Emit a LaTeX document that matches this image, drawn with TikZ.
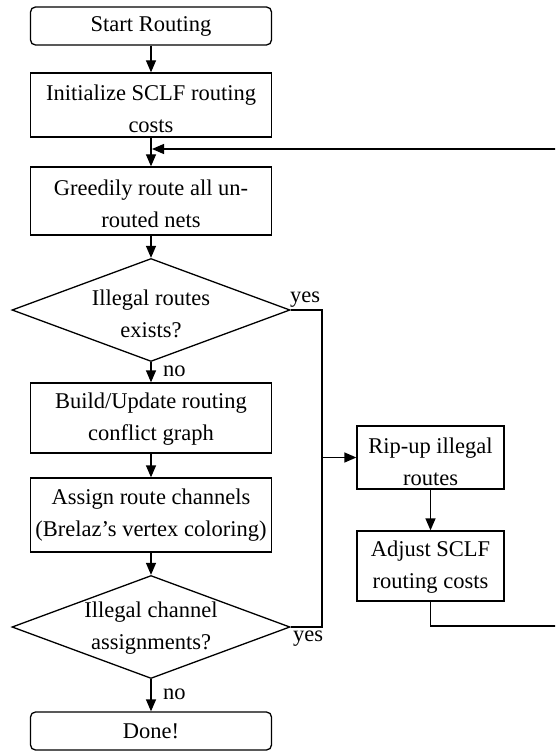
\documentclass[tikz,border=0pt]{standalone}
\usepackage{fontspec}
\setmainfont{Liberation Serif}
\usetikzlibrary{shapes.geometric,arrows.meta}
\begin{document}
\begin{tikzpicture}[x=1pt,y=-1pt,
  every node/.style={font=\fontsize{22.5}{32}\selectfont},
  box/.style={draw,line width=1.3pt,minimum width=241pt,inner sep=0pt,align=center},
  term/.style={box,rounded corners=5pt,minimum height=38pt},
  small/.style={draw,line width=1.3pt,minimum width=147pt,inner sep=0pt},
  dia/.style={draw,line width=1.3pt,diamond,minimum width=278pt,minimum height=103pt,inner sep=0pt},
  lbl/.style={inner sep=0pt,align=center},
  arr/.style={line width=1.3pt,-{Triangle[length=12pt,width=10pt]}},
  ln/.style={line width=1.3pt}]
\useasboundingbox (0,0) rectangle (555,751);
\clip (0,0) rectangle (555,751);
\node[term] (start) at (151,26) {Start Routing};
\node[box,minimum height=64pt] (init) at (151,105) {};
\node[lbl] (initt) at (151,109) {Initialize SCLF routing\\costs};
\node[box,minimum height=68pt] (greedy) at (151,201) {};
\node[lbl] (greedyt) at (151,204) {Greedily route all un-\\routed nets};
\node[dia] (d1) at (151,310) {};
\node[lbl] (d1t) at (151,314) {Illegal routes\\exists?};
\node[box,minimum height=70pt] (build) at (151,418) {};
\node[lbl] (buildt) at (151,419) {Build/Update routing\\conflict graph};
\node[box,minimum height=74pt] (assign) at (151,515) {};
\node[lbl] (assignt) at (151,515) {Assign route channels\\(Brelaz’s vertex coloring)};
\node[dia] (d2) at (151,627) {};
\node[lbl] (d2t) at (151,628) {Illegal channel\\assignments?};
\node[term] (done) at (151,731) {Done!};
\node[small,minimum height=63pt] (rip) at (430.5,457.5) {};
\node[lbl] (ript) at (430.5,462) {Rip-up illegal\\routes};
\node[small,minimum height=70pt] (adj) at (430.5,566) {};
\node[lbl] (adjt) at (430.5,567) {Adjust SCLF\\routing costs};
\coordinate (j1) at (322,310);
\coordinate (j2) at (322,627);
\coordinate (jr) at (322,457.5);
\coordinate (lb) at (570,626);
\coordinate (lt) at (570,149);
\coordinate (merge) at (152,149);
\draw[arr] (start) -- (init);
\draw[arr] (init) -- (greedy);
\draw[arr] (greedy) -- (d1.north);
\draw[arr] (d1.south) -- (build);
\draw[arr] (build) -- (assign);
\draw[arr] (assign) -- (d2.north);
\draw[arr] (d2.south) -- (done);
\draw[ln] (d1.east) -- (j1) -- (j2) -- (d2.east);
\draw[arr] (jr) -- (rip);
\draw[arr] (rip) -- (adj);
\draw[ln] (adj.south) |- (lb) -- (lt);
\draw[arr] (lt) -- (merge);
\node[lbl,anchor=south west] (yes1) at (290,308) {yes};
\node[lbl,anchor=north west] (yes2) at (293,631) {yes};
\node[lbl,anchor=west] (no1) at (163,371) {no};
\node[lbl,anchor=west] (no2) at (163,694) {no};
\end{tikzpicture}
\end{document}
